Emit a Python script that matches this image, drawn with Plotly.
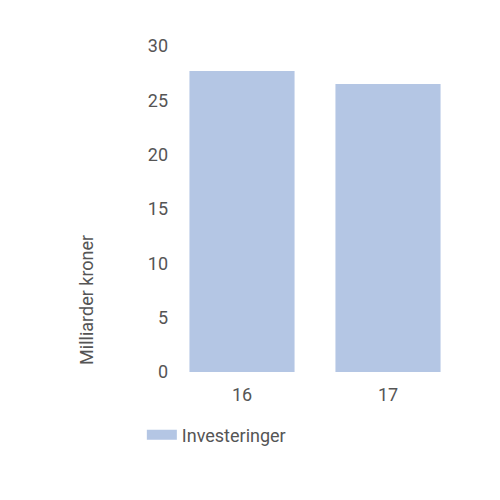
import plotly.graph_objects as go

categories = ["16", "17"]
investeringer = [27.7, 26.5]
y_ticks = [0, 5, 10, 15, 20, 25, 30]
bar_color = "#b4c6e4"

fig = go.Figure()
fig.add_trace(go.Bar(x=categories, y=investeringer, name="Investeringer",
                     marker=dict(color=bar_color, line=dict(width=0)),
                     showlegend=False))
# legend entry drawn as a wide swatch
fig.add_trace(go.Scatter(x=[None], y=[None], mode="lines", name="Investeringer",
                         line=dict(color=bar_color, width=10)))

font_family = "Roboto, 'DejaVu Sans', sans-serif"
fig.update_layout(
    width=500, height=500,
    margin=dict(l=161, r=47, t=38, b=136, autoexpand=False),
    plot_bgcolor="white", paper_bgcolor="white",
    bargap=0.28,
    font=dict(family=font_family, size=18, color="#555555"),
    showlegend=True,
    legend=dict(orientation="h", x=-0.093, xanchor="left", y=-0.137, yanchor="top",
                font=dict(size=18, color="#555555")),
    xaxis=dict(type="category", showgrid=False, showline=False, ticks="",
               ticklabelstandoff=10, automargin=False),
    yaxis=dict(range=[0, 30], tickvals=y_ticks, showgrid=False, zeroline=False,
               showline=False, ticks="", automargin=False),
    annotations=[dict(text="Milliarder kroner", textangle=-90, xref="paper", yref="paper",
                      x=-0.281, y=0.221, xanchor="center", yanchor="middle",
                      showarrow=False, font=dict(size=18, color="#555555"))],
)
fig.write_html("out.html")
